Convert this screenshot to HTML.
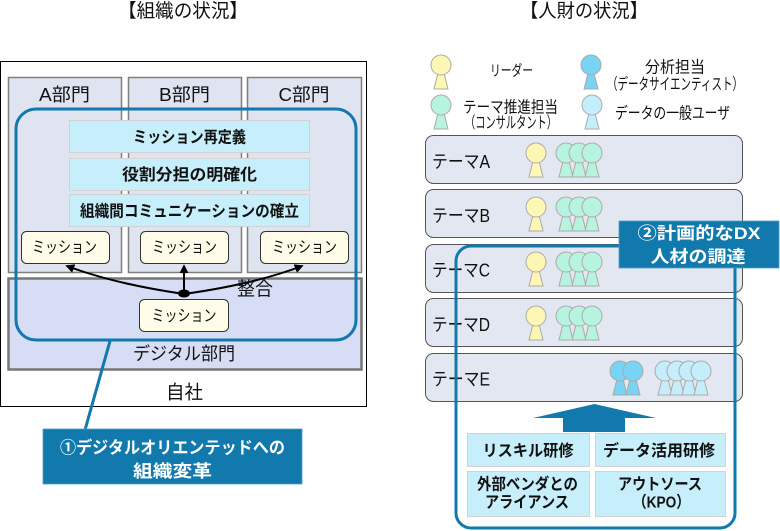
<!DOCTYPE html>
<html><head><meta charset="utf-8"><style>
html,body{margin:0;padding:0;background:#fff;}
svg{display:block;}
text{font-family:"Liberation Sans","Noto Sans CJK JP",sans-serif;fill:#111;}
.b{font-weight:bold;}
.w{fill:#fff;}
</style></head><body>
<svg width="780" height="531" viewBox="0 0 780 531" xmlns="http://www.w3.org/2000/svg">
<defs>
<marker id="ah" viewBox="0 0 10 10" refX="8" refY="5" markerWidth="4.5" markerHeight="4.5" orient="auto"><path d="M0,0 L10,5 L0,10 z" fill="#000"/></marker>
<g id="p"><path d="M-2.5,16 L2.5,16 L7,34 L-7,34 Z" stroke="#b0a8a8" stroke-width="1"/><circle cx="0" cy="10" r="10" stroke="#b0a8a8" stroke-width="1"/></g>
</defs>

<!-- LEFT -->
<text x="183" y="17" font-size="19" text-anchor="middle" textLength="130" lengthAdjust="spacingAndGlyphs">【組織の状況】</text>
<rect x="0.5" y="61.5" width="366" height="345" fill="#fff" stroke="#000" stroke-width="1"/>
<rect x="8.5" y="77.5" width="113" height="195" fill="#dfe4f0" stroke="#7f7f7f" stroke-width="1.5"/>
<rect x="128.5" y="77.5" width="113" height="195" fill="#dfe4f0" stroke="#7f7f7f" stroke-width="1.5"/>
<rect x="247.5" y="77.5" width="114" height="195" fill="#dfe4f0" stroke="#7f7f7f" stroke-width="1.5"/>
<rect x="8.5" y="278.5" width="353" height="91" fill="#d7ddf4" stroke="#777" stroke-width="2.5"/>
<text x="64.5" y="101" font-size="18" text-anchor="middle" textLength="51" lengthAdjust="spacingAndGlyphs">A部門</text>
<text x="184.5" y="101" font-size="18" text-anchor="middle" textLength="51" lengthAdjust="spacingAndGlyphs">B部門</text>
<text x="304" y="101" font-size="18" text-anchor="middle" textLength="51" lengthAdjust="spacingAndGlyphs">C部門</text>

<rect x="16" y="109" width="340" height="231" rx="20" fill="none" stroke="#1279ac" stroke-width="3"/>
<line x1="110" y1="341" x2="85" y2="430" stroke="#1279ac" stroke-width="3"/>

<rect x="69.5" y="120.5" width="240" height="32" fill="#c6eefb" stroke="#d2d2d2"/>
<rect x="69.5" y="158.5" width="240" height="32" fill="#c6eefb" stroke="#d2d2d2"/>
<rect x="69.5" y="194.5" width="240" height="32" fill="#c6eefb" stroke="#d2d2d2"/>
<text class="b" x="189.5" y="142.5" font-size="16" text-anchor="middle" textLength="113" lengthAdjust="spacingAndGlyphs">ミッション再定義</text>
<text class="b" x="189.5" y="180" font-size="16" text-anchor="middle" textLength="135" lengthAdjust="spacingAndGlyphs">役割分担の明確化</text>
<text class="b" x="189.5" y="216.5" font-size="16" text-anchor="middle" textLength="219" lengthAdjust="spacingAndGlyphs">組織間コミュニケーションの確立</text>

<rect x="21.5" y="231.5" width="88" height="32" rx="5" fill="#fffdea" stroke="#333"/>
<rect x="140.5" y="231.5" width="88" height="32" rx="5" fill="#fffdea" stroke="#333"/>
<rect x="260.5" y="231.5" width="88" height="32" rx="5" fill="#fffdea" stroke="#333"/>
<rect x="139.5" y="299.5" width="89" height="32" rx="5" fill="#fffdea" stroke="#333"/>
<text x="64.5" y="252.5" font-size="16" text-anchor="middle" textLength="65" lengthAdjust="spacingAndGlyphs">ミッション</text>
<text x="184.5" y="252.5" font-size="16" text-anchor="middle" textLength="65" lengthAdjust="spacingAndGlyphs">ミッション</text>
<text x="304.5" y="252.5" font-size="16" text-anchor="middle" textLength="65" lengthAdjust="spacingAndGlyphs">ミッション</text>
<text x="184" y="321" font-size="16" text-anchor="middle" textLength="65" lengthAdjust="spacingAndGlyphs">ミッション</text>

<path d="M184,294 Q115,284 67,266" fill="none" stroke="#000" stroke-width="2" marker-end="url(#ah)"/>
<path d="M184,294 Q255,284 302,266" fill="none" stroke="#000" stroke-width="2" marker-end="url(#ah)"/>
<line x1="184" y1="293" x2="184" y2="266" stroke="#000" stroke-width="2" marker-end="url(#ah)"/>
<ellipse cx="184" cy="293.5" rx="6" ry="4" fill="#000"/>
<text x="255" y="295" font-size="19" text-anchor="middle" textLength="36" lengthAdjust="spacingAndGlyphs">整合</text>
<text x="184" y="360" font-size="18" text-anchor="middle" textLength="102" lengthAdjust="spacingAndGlyphs">デジタル部門</text>
<text x="184.5" y="398.5" font-size="19" text-anchor="middle" textLength="37" lengthAdjust="spacingAndGlyphs">自社</text>

<rect x="43" y="429" width="259" height="55" fill="#1279ac" stroke="#4f9fc8" stroke-width="0.8"/>
<text class="b w" x="172.5" y="453.5" font-size="17" text-anchor="middle" textLength="225" lengthAdjust="spacingAndGlyphs">①デジタルオリエンテッドへの</text>
<text class="b w" x="172.5" y="477" font-size="17" text-anchor="middle" textLength="79" lengthAdjust="spacingAndGlyphs">組織変革</text>

<!-- RIGHT -->
<text x="584" y="17" font-size="19" text-anchor="middle" textLength="128" lengthAdjust="spacingAndGlyphs">【人財の状況】</text>

<use href="#p" x="441" y="55" fill="#fdf7b5"/>
<use href="#p" x="591" y="55" fill="#78d3f5"/>
<use href="#p" x="441" y="95" fill="#b6f4e0"/>
<use href="#p" x="592" y="95" fill="#c4eefb"/>
<text x="511.5" y="75.5" font-size="15" text-anchor="middle" textLength="43" lengthAdjust="spacingAndGlyphs">リーダー</text>
<text x="675" y="72.5" font-size="16" text-anchor="middle" textLength="60" lengthAdjust="spacingAndGlyphs">分析担当</text>
<text x="675" y="89.5" font-size="16" text-anchor="middle" textLength="136" lengthAdjust="spacingAndGlyphs">（データサイエンティスト）</text>
<text x="510.5" y="112.5" font-size="16" text-anchor="middle" textLength="95" lengthAdjust="spacingAndGlyphs">テーマ推進担当</text>
<text x="511" y="128" font-size="16" text-anchor="middle" textLength="92" lengthAdjust="spacingAndGlyphs">（コンサルタント）</text>
<text x="672.5" y="118.5" font-size="16" text-anchor="middle" textLength="115" lengthAdjust="spacingAndGlyphs">データの一般ユーザ</text>

<rect x="425.5" y="135.5" width="317" height="48" rx="8" fill="#e3e7f2" stroke="#555"/>
<rect x="425.5" y="189.5" width="317" height="48" rx="8" fill="#e3e7f2" stroke="#555"/>
<rect x="425.5" y="244.5" width="317" height="48" rx="8" fill="#e3e7f2" stroke="#555"/>
<rect x="425.5" y="298.5" width="317" height="48" rx="8" fill="#e3e7f2" stroke="#555"/>
<rect x="425.5" y="353.5" width="317" height="48" rx="8" fill="#e3e7f2" stroke="#555"/>
<text x="432" y="168" font-size="18" textLength="58" lengthAdjust="spacingAndGlyphs">テーマA</text>
<text x="432" y="222" font-size="18" textLength="58" lengthAdjust="spacingAndGlyphs">テーマB</text>
<text x="432" y="276.5" font-size="18" textLength="58" lengthAdjust="spacingAndGlyphs">テーマC</text>
<text x="432" y="331" font-size="18" textLength="58" lengthAdjust="spacingAndGlyphs">テーマD</text>
<text x="432" y="385.5" font-size="18" textLength="58" lengthAdjust="spacingAndGlyphs">テーマE</text>

<use href="#p" x="536" y="143" fill="#fdf7b5"/>
<use href="#p" x="566" y="143" fill="#b6f4e0"/>
<use href="#p" x="579" y="143" fill="#b6f4e0"/>
<use href="#p" x="592" y="143" fill="#b6f4e0"/>

<use href="#p" x="536" y="197" fill="#fdf7b5"/>
<use href="#p" x="566" y="197" fill="#b6f4e0"/>
<use href="#p" x="579" y="197" fill="#b6f4e0"/>
<use href="#p" x="592" y="197" fill="#b6f4e0"/>

<use href="#p" x="536" y="252" fill="#fdf7b5"/>
<use href="#p" x="566" y="252" fill="#b6f4e0"/>
<use href="#p" x="579" y="252" fill="#b6f4e0"/>
<use href="#p" x="592" y="252" fill="#b6f4e0"/>

<use href="#p" x="536" y="306" fill="#fdf7b5"/>
<use href="#p" x="566" y="306" fill="#b6f4e0"/>
<use href="#p" x="579" y="306" fill="#b6f4e0"/>
<use href="#p" x="592" y="306" fill="#b6f4e0"/>

<use href="#p" x="620" y="361" fill="#78d3f5"/>
<use href="#p" x="633" y="361" fill="#78d3f5"/>
<use href="#p" x="665" y="361" fill="#c4eefb"/>
<use href="#p" x="677" y="361" fill="#c4eefb"/>
<use href="#p" x="689" y="361" fill="#c4eefb"/>
<use href="#p" x="701" y="361" fill="#c4eefb"/>

<rect x="456" y="246" width="279" height="282" rx="15" fill="none" stroke="#1279ac" stroke-width="3"/>

<polygon points="594.5,404 656,418 625,418 625,432 563,432 563,418 533,418" fill="#1279ac"/>

<rect x="467.5" y="433.5" width="122" height="33" fill="#c6eefb" stroke="#d2d2d2"/>
<rect x="595.5" y="433.5" width="130" height="33" fill="#c6eefb" stroke="#d2d2d2"/>
<rect x="467.5" y="471.5" width="122" height="45" fill="#c6eefb" stroke="#d2d2d2"/>
<rect x="595.5" y="471.5" width="130" height="45" fill="#c6eefb" stroke="#d2d2d2"/>
<text class="b" x="528" y="456" font-size="16" text-anchor="middle" textLength="91" lengthAdjust="spacingAndGlyphs">リスキル研修</text>
<text class="b" x="659" y="456" font-size="16" text-anchor="middle" textLength="112" lengthAdjust="spacingAndGlyphs">データ活用研修</text>
<text class="b" x="527.5" y="489.5" font-size="16" text-anchor="middle" textLength="101" lengthAdjust="spacingAndGlyphs">外部ベンダとの</text>
<text class="b" x="527" y="507.5" font-size="16" text-anchor="middle" textLength="84" lengthAdjust="spacingAndGlyphs">アライアンス</text>
<text class="b" x="660" y="489.5" font-size="16" text-anchor="middle" textLength="84" lengthAdjust="spacingAndGlyphs">アウトソース</text>
<text class="b" x="661.5" y="507.5" font-size="16" text-anchor="middle" textLength="57" lengthAdjust="spacingAndGlyphs">（KPO）</text>

<rect x="619" y="221" width="160" height="47" fill="#1279ac" stroke="#4f9fc8" stroke-width="0.8"/>
<text class="b w" x="699" y="239" font-size="17" text-anchor="middle" textLength="123" lengthAdjust="spacingAndGlyphs">②計画的なDX</text>
<text class="b w" x="698" y="262.5" font-size="17" text-anchor="middle" textLength="95" lengthAdjust="spacingAndGlyphs">人材の調達</text>
</svg>
</body></html>
